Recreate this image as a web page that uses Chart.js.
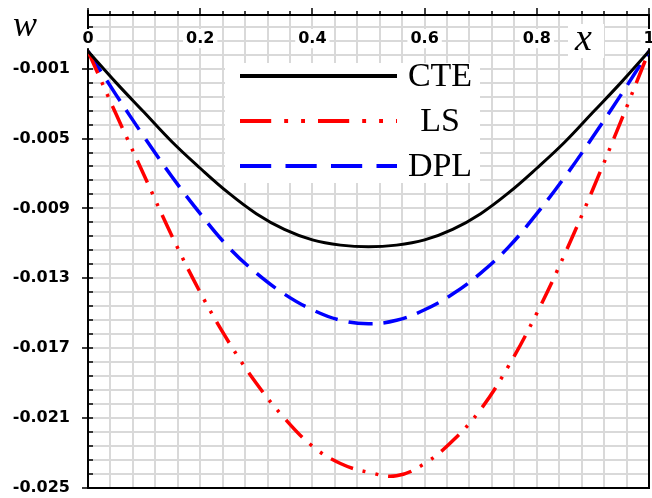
<!DOCTYPE html>
<html>
<head>
<meta charset="utf-8">
<script src="https://cdn.jsdelivr.net/npm/chart.js@4.4.0/dist/chart.umd.min.js"></script>
<style>
  html, body { margin: 0; padding: 0; background: #fff; }
  canvas { display: block; }
</style>
</head>
<body>
<canvas id="deflection" width="652" height="498"></canvas>
<script>
// positions along x and the deflection w for each model
const xs  = [0, 0.05, 0.1, 0.15, 0.2, 0.25, 0.3, 0.35, 0.4, 0.45, 0.5, 0.55, 0.6, 0.65, 0.7, 0.75, 0.8, 0.85, 0.9, 0.95, 1];
const cte = [0, -0.0018, -0.0035, -0.0052, -0.0067, -0.0081, -0.0093, -0.0102, -0.0108, -0.0111, -0.0112,
             -0.0111, -0.0108, -0.0102, -0.0093, -0.0081, -0.0067, -0.0052, -0.0035, -0.0018, 0];
const ls  = [0, -0.0036, -0.0071, -0.0106, -0.0138, -0.0166, -0.0190, -0.0210, -0.0226, -0.0236, -0.0241,
             -0.0243, -0.0236, -0.0223, -0.0205, -0.0180, -0.0150, -0.0116, -0.0079, -0.0040, 0];
const dpl = [0, -0.0025, -0.0049, -0.0072, -0.0093, -0.0112, -0.0127, -0.0139, -0.0148, -0.0154, -0.0156,
             -0.0154, -0.0148, -0.0139, -0.0127, -0.0112, -0.0093, -0.0072, -0.0049, -0.0025, 0];

const xTickLabels = ['0', '0.2', '0.4', '0.6', '0.8', '1'];
const yTickLabels = ['-0.025', '-0.021', '-0.017', '-0.013', '-0.009', '-0.005', '-0.001'];

const xStep = 0.04, yStep = 0.0008, yMin = -0.025, yMax = 0.00207;

// grid positions (every 5th one carries a label)
let xGrid = [], yGrid = [];
for (let i = 0; i <= 25; i++) xGrid.push(+(i * xStep).toFixed(4));
for (let i = 0; yMin + i * yStep <= yMax; i++) yGrid.push(+(yMin + i * yStep).toFixed(5));

function toPoints(ys) {
    return xs.map((x, i) => ({x: x, y: ys[i]}));
}

const tickFont = {family: '"DejaVu Sans", sans-serif', size: 16, weight: 'bold'};

const framePlugin = {
    id: 'frame',
    beforeDatasetsDraw(chart) {
        const {ctx, chartArea: a, scales} = chart;
        ctx.save();
        ctx.strokeStyle = '#000';
        ctx.lineWidth = 1.5;
        ctx.beginPath();
        xGrid.forEach((v, i) => {
            const px = Math.round(scales.x.getPixelForValue(v));
            ctx.moveTo(px, a.top);
            ctx.lineTo(px, a.top - (i % 5 === 0 ? 7 : 4));
        });
        yGrid.forEach((v, i) => {
            const py = Math.round(scales.y.getPixelForValue(v));
            ctx.moveTo(a.left + 5, py);
            ctx.lineTo(a.left - (i % 5 === 0 ? 6 : 0), py);
        });
        ctx.stroke();
        ctx.lineWidth = 2;
        ctx.strokeRect(a.left, a.top, a.right - a.left, a.bottom - a.top);
        ctx.beginPath();
        ctx.moveTo(a.left, a.top);
        ctx.lineTo(a.left, a.top - 5);
        ctx.stroke();
        ctx.restore();
    },
    afterDraw(chart) {
        const ctx = chart.ctx;
        ctx.save();
        // legend box
        ctx.fillStyle = '#fff';
        ctx.fillRect(225, 63, 255, 120);
        const rows = [76, 121, 166];
        chart.data.datasets.forEach((ds, i) => {
            const y = rows[i];
            ctx.strokeStyle = ds.borderColor;
            ctx.lineWidth = 4;
            ctx.setLineDash((ds.borderDash || []).map(d => d * 1.3));
            ctx.beginPath();
            ctx.moveTo(240, y);
            ctx.lineTo(397, y);
            ctx.stroke();
            ctx.setLineDash([]);
            ctx.fillStyle = '#000';
            ctx.font = '34px "Liberation Serif", serif';
            ctx.textAlign = 'center';
            ctx.textBaseline = 'middle';
            ctx.fillText(ds.label, 440, y + 1);
        });
        // axis names
        ctx.fillStyle = '#fff';
        ctx.fillRect(568, 24, 36, 34);
        ctx.fillStyle = '#000';
        ctx.font = 'italic 36px "Liberation Serif", serif';
        ctx.textAlign = 'left';
        ctx.textBaseline = 'alphabetic';
        ctx.fillText('w', 13, 36);
        ctx.font = 'italic 38px "Liberation Serif", serif';
        ctx.fillText('x', 575, 50);
        ctx.restore();
    }
};

new Chart(document.getElementById('deflection'), {
    type: 'line',
    data: {
        datasets: [{
            label: 'CTE',
            data: toPoints(cte),
            borderColor: '#000000',
            borderWidth: 3
        }, {
            label: 'LS',
            data: toPoints(ls),
            borderColor: '#ff0000',
            borderWidth: 3.5,
            borderDash: [24, 10, 3, 10, 3, 10]
        }, {
            label: 'DPL',
            data: toPoints(dpl),
            borderColor: '#0000ff',
            borderWidth: 3.5,
            borderDash: [24, 11]
        }]
    },
    options: {
        responsive: false,
        animation: false,
        layout: {padding: {left: 0, right: 3, top: 0, bottom: 10}},
        elements: {
            point: {radius: 0},
            line: {tension: 0.4, fill: false}
        },
        plugins: {
            legend: {display: false},
            tooltip: {enabled: false}
        },
        scales: {
            x: {
                type: 'linear',
                position: 'top',
                min: 0,
                max: 1,
                afterBuildTicks: s => { s.ticks = xGrid.map(v => ({value: v})); },
                afterFit: s => { s.height = 15; s.paddingLeft = 0; s.paddingRight = 0; },
                grid: {color: '#d9d9d9', lineWidth: 2, drawTicks: false},
                border: {display: false},
                ticks: {
                    mirror: true,
                    padding: 14,
                    autoSkip: false,
                    maxRotation: 0,
                    z: 1,
                    color: '#000',
                    font: tickFont,
                    callback: (v, i) => i % 5 === 0 ? xTickLabels[i / 5] : '',
                    showLabelBackdrop: c => c.index % 5 === 0,
                    backdropColor: '#fff',
                    backdropPadding: {top: 0, bottom: 0, left: 3, right: 3}
                }
            },
            y: {
                type: 'linear',
                min: yMin,
                max: yMax,
                afterBuildTicks: s => { s.ticks = yGrid.map(v => ({value: v})); },
                afterFit: s => { s.width = 88; s.paddingTop = 0; s.paddingBottom = 0; },
                grid: {color: '#d9d9d9', lineWidth: 2, drawTicks: false},
                border: {display: false},
                ticks: {
                    padding: 18,
                    autoSkip: false,
                    color: '#000',
                    font: tickFont,
                    callback: (v, i) => i % 5 === 0 ? yTickLabels[i / 5] : ''
                }
            }
        }
    },
    plugins: [framePlugin]
});
</script>
</body>
</html>
